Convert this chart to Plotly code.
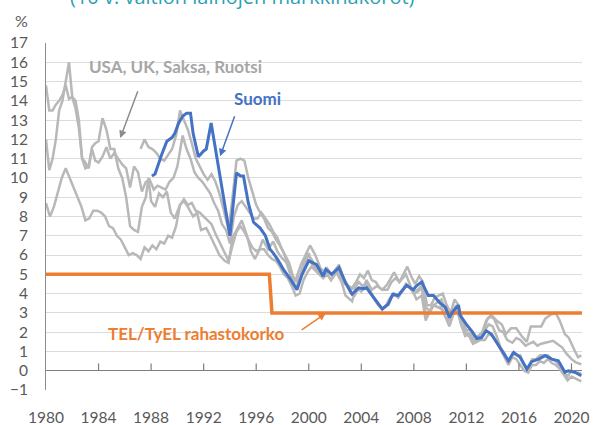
import plotly.graph_objects as go

# ---------------- data ----------------
tick_years = [1980, 1984, 1988, 1992, 1996, 2000, 2004, 2008, 2012, 2016, 2020]

usa_x = [1980.0, 1980.25, 1980.5, 1980.75, 1981.0, 1981.25, 1981.5, 1981.75, 1982.0, 1982.25, 1982.5, 1982.75,
         1983.0, 1983.25, 1983.5, 1983.75, 1984.0, 1984.3, 1984.6, 1984.9, 1985.2, 1985.5, 1985.8, 1986.1,
         1986.4, 1986.7, 1987.0, 1987.3, 1987.6, 1987.8, 1988.0, 1988.3, 1988.6, 1988.9, 1989.2, 1989.5,
         1989.8, 1990.2, 1990.5, 1990.8, 1991.2, 1991.5, 1991.8, 1992.2, 1992.5, 1992.8, 1993.2, 1993.6,
         1993.9, 1994.2, 1994.5, 1994.9, 1995.3, 1995.6, 1995.9, 1996.2, 1996.5, 1996.9, 1997.3, 1997.6,
         1997.9, 1998.3, 1998.7, 1999.0, 1999.4, 1999.8, 2000.1, 2000.5, 2000.9, 2001.3, 2001.7, 2002.1,
         2002.5, 2002.8, 2003.3, 2003.6, 2004.0, 2004.4, 2004.8, 2005.2, 2005.6, 2006.0, 2006.5, 2006.9,
         2007.4, 2007.8, 2008.2, 2008.6, 2008.9, 2009.3, 2009.7, 2010.1, 2010.5, 2010.9, 2011.2, 2011.6,
         2011.9, 2012.3, 2012.6, 2012.9, 2013.3, 2013.6, 2013.9, 2014.3, 2014.7, 2015.0, 2015.4, 2015.8,
         2016.2, 2016.6, 2016.9, 2017.3, 2017.7, 2018.0, 2018.4, 2018.8, 2019.1, 2019.5, 2019.8, 2020.2,
         2020.5, 2020.75]
usa_y = [12.0, 10.4, 11.0, 12.0, 13.5, 14.0, 15.0, 16.0, 14.2, 14.0, 13.0, 11.0,
         10.5, 10.6, 11.6, 11.8, 11.9, 13.1, 12.5, 11.5, 11.5, 10.5, 10.0, 9.0,
         7.5, 7.3, 7.2, 8.5, 9.0, 10.0, 8.8, 8.5, 9.2, 9.0, 9.3, 8.2,
         7.9, 8.6, 8.8, 8.5, 8.0, 8.2, 7.3, 7.4, 7.0, 6.6, 6.0, 5.7,
         5.6, 6.9, 7.3, 7.8, 7.0, 6.2, 5.8, 6.2, 6.8, 6.3, 6.7, 6.2,
         5.9, 5.6, 4.8, 4.7, 5.5, 6.1, 6.5, 6.0, 5.3, 5.1, 4.7, 5.1,
         4.6, 3.9, 3.6, 4.3, 4.1, 4.7, 4.2, 4.4, 4.2, 4.5, 5.1, 4.6,
         5.0, 4.3, 3.7, 3.9, 2.6, 3.2, 3.5, 3.7, 3.0, 2.8, 3.4, 2.4,
         2.0, 1.9, 1.6, 1.8, 2.0, 2.7, 2.9, 2.6, 2.4, 1.9, 2.2, 2.2,
         1.8, 1.5, 2.3, 2.3, 2.3, 2.7, 2.9, 3.0, 2.6, 1.9, 1.7, 1.1,
         0.7, 0.8]

uk_x = [1980.0, 1980.25, 1980.5, 1980.75, 1981.0, 1981.25, 1981.5, 1981.75, 1982.0, 1982.25, 1982.5, 1982.75,
        1983.0, 1983.25, 1983.5, 1983.75, 1984.0, 1984.3, 1984.6, 1984.9, 1985.2, 1985.5, 1985.8, 1986.1,
        1986.4, 1986.7, 1987.0, 1987.3, 1987.6, 1987.9, 1988.2, 1988.5, 1988.8, 1989.1, 1989.4, 1989.7,
        1990.0, 1990.4, 1990.7, 1991.0, 1991.3, 1991.6, 1991.9, 1992.2, 1992.5, 1992.8, 1993.1, 1993.4,
        1993.7, 1994.0, 1994.3, 1994.6, 1994.9, 1995.2, 1995.5, 1995.8, 1996.1, 1996.4, 1996.7, 1997.0,
        1997.3, 1997.6, 1997.9, 1998.2, 1998.5, 1998.8, 1999.1, 1999.4, 1999.7, 2000.0, 2000.3, 2000.6,
        2000.9, 2001.2, 2001.5, 2001.8, 2002.1, 2002.4, 2002.7, 2003.0, 2003.3, 2003.6, 2003.9, 2004.2,
        2004.5, 2004.8, 2005.1, 2005.4, 2005.7, 2006.0, 2006.3, 2006.6, 2006.9, 2007.2, 2007.5, 2007.8,
        2008.1, 2008.4, 2008.7, 2009.0, 2009.3, 2009.6, 2009.9, 2010.2, 2010.5, 2010.8, 2011.1, 2011.4,
        2011.7, 2012.0, 2012.3, 2012.6, 2012.9, 2013.2, 2013.5, 2013.8, 2014.1, 2014.5, 2014.8, 2015.1,
        2015.5, 2015.8, 2016.1, 2016.5, 2016.8, 2017.1, 2017.4, 2017.7, 2018.0, 2018.3, 2018.6, 2018.9,
        2019.3, 2019.6, 2020.0, 2020.3, 2020.75]
uk_y = [14.8, 13.5, 13.5, 13.8, 14.0, 14.3, 14.8, 14.1, 14.2, 13.6, 12.6, 11.0,
        10.8, 10.5, 11.5, 10.9, 10.8, 11.1, 11.6, 11.0, 11.3, 11.0, 10.7, 10.5,
        9.5, 10.6, 10.3, 9.3, 9.8, 9.9, 9.4, 9.6, 9.5, 9.4, 9.8, 10.0,
        10.6, 12.2, 11.5, 11.0, 10.3, 10.0, 9.8, 9.5, 9.2, 8.7, 8.3, 7.6,
        7.3, 6.6, 8.0, 8.6, 8.8, 8.5, 8.2, 7.9, 7.9, 8.2, 7.9, 7.6,
        7.2, 6.9, 6.4, 6.0, 5.6, 4.9, 4.6, 5.1, 5.5, 6.1, 5.4, 5.3,
        5.1, 4.9, 5.2, 4.9, 5.1, 5.3, 4.7, 4.4, 4.3, 4.6, 5.0, 4.8,
        5.2, 4.7, 4.6, 4.3, 4.2, 4.2, 4.6, 4.8, 4.6, 5.0, 5.4, 4.9,
        4.5, 4.9, 4.6, 3.4, 3.4, 3.8, 3.9, 4.0, 3.4, 3.0, 3.7, 3.4,
        2.6, 2.1, 2.1, 1.6, 1.8, 2.0, 2.6, 2.8, 2.7, 2.1, 2.0, 1.6,
        1.45, 1.7, 1.6, 1.3, 1.4, 1.5, 1.3, 1.4, 1.45, 1.5, 1.55, 1.4,
        1.2, 0.9, 0.6, 0.45, 0.33]

ger_x = [1980.0, 1980.3, 1980.6, 1980.9, 1981.2, 1981.5, 1981.8, 1982.1, 1982.4, 1982.7, 1983.0, 1983.3,
         1983.6, 1983.9, 1984.2, 1984.5, 1984.8, 1985.1, 1985.4, 1985.7, 1986.0, 1986.3, 1986.6, 1986.9,
         1987.2, 1987.5, 1987.8, 1988.1, 1988.4, 1988.7, 1989.0, 1989.3, 1989.6, 1989.9, 1990.2, 1990.5,
         1990.8, 1991.1, 1991.4, 1991.7, 1992.0, 1992.3, 1992.6, 1992.9, 1993.2, 1993.5, 1993.9, 1994.2,
         1994.5, 1994.8, 1995.1, 1995.4, 1995.7, 1996.0, 1996.3, 1996.6, 1996.9, 1997.2, 1997.5, 1997.8,
         1998.1, 1998.4, 1998.7, 1999.0, 1999.3, 1999.6, 1999.9, 2000.2, 2000.5, 2000.8, 2001.1, 2001.4,
         2001.7, 2002.0, 2002.3, 2002.6, 2002.9, 2003.2, 2003.5, 2003.8, 2004.1, 2004.4, 2004.7, 2005.0,
         2005.3, 2005.6, 2005.9, 2006.2, 2006.5, 2006.8, 2007.1, 2007.4, 2007.7, 2008.0, 2008.3, 2008.6,
         2008.9, 2009.2, 2009.5, 2009.8, 2010.1, 2010.4, 2010.7, 2011.0, 2011.3, 2011.6, 2011.9, 2012.2,
         2012.5, 2012.8, 2013.1, 2013.4, 2013.7, 2014.0, 2014.3, 2014.6, 2014.9, 2015.2, 2015.5, 2015.8,
         2016.1, 2016.4, 2016.7, 2017.0, 2017.3, 2017.6, 2017.9, 2018.2, 2018.5, 2018.8, 2019.1, 2019.4,
         2019.7, 2020.0, 2020.3, 2020.6, 2020.75]
ger_y = [8.7, 8.0, 8.5, 9.3, 10.0, 10.5, 10.0, 9.5, 9.0, 8.5, 7.8, 7.9,
         8.3, 8.3, 8.2, 8.0, 7.5, 7.4, 7.0, 6.8, 6.4, 6.0, 6.1, 6.0,
         5.8, 6.4, 6.2, 6.5, 6.3, 6.7, 6.6, 7.0, 6.9, 7.5, 8.6, 8.9,
         8.6, 8.7, 8.3, 8.2, 8.0, 7.8, 7.6, 7.1, 6.7, 6.3, 5.7, 6.5,
         7.2, 7.5, 7.2, 6.8, 6.4, 6.2, 6.3, 6.3, 6.0, 5.8, 5.7, 5.4,
         5.0, 4.8, 4.4, 3.9, 4.0, 4.7, 5.1, 5.4, 5.2, 5.0, 4.8, 5.0,
         4.7, 5.0, 5.1, 4.6, 4.4, 4.0, 3.9, 4.3, 4.2, 4.3, 4.0, 3.7,
         3.4, 3.2, 3.4, 3.7, 4.0, 3.8, 4.1, 4.5, 4.3, 4.0, 4.1, 4.3,
         3.3, 3.1, 3.4, 3.3, 3.2, 2.8, 2.3, 2.9, 3.2, 2.5, 1.9, 1.8,
         1.4, 1.5, 1.6, 1.6, 1.9, 1.8, 1.5, 1.1, 0.7, 0.3, 0.7, 0.6,
         0.3, 0.0, -0.1, 0.3, 0.3, 0.5, 0.4, 0.6, 0.4, 0.3, 0.1, -0.2,
         -0.5, -0.3, -0.4, -0.5, -0.55]

swe_x = [1987.2, 1987.5, 1987.8, 1988.1, 1988.4, 1988.7, 1989.0, 1989.3, 1989.6, 1989.9, 1990.2, 1990.5,
         1990.8, 1991.1, 1991.4, 1991.7, 1992.0, 1992.3, 1992.6, 1992.9, 1993.2, 1993.5, 1993.9, 1994.2,
         1994.5, 1994.8, 1995.1, 1995.4, 1995.7, 1996.0, 1996.3, 1996.6, 1996.9, 1997.2, 1997.5, 1997.8,
         1998.1, 1998.4, 1998.7, 1999.0, 1999.3, 1999.6, 1999.9, 2000.2, 2000.5, 2000.8, 2001.1, 2001.4,
         2001.7, 2002.0, 2002.3, 2002.6, 2002.9, 2003.2, 2003.5, 2003.8, 2004.1, 2004.4, 2004.7, 2005.0,
         2005.3, 2005.6, 2005.9, 2006.2, 2006.5, 2006.8, 2007.1, 2007.4, 2007.7, 2008.0, 2008.3, 2008.6,
         2008.9, 2009.2, 2009.5, 2009.8, 2010.1, 2010.4, 2010.7, 2011.0, 2011.3, 2011.6, 2011.9, 2012.2,
         2012.5, 2012.8, 2013.1, 2013.4, 2013.7, 2014.0, 2014.3, 2014.6, 2014.9, 2015.2, 2015.5, 2015.8,
         2016.1, 2016.4, 2016.7, 2017.0, 2017.3, 2017.6, 2017.9, 2018.2, 2018.5, 2018.8, 2019.1, 2019.4,
         2019.7, 2020.0, 2020.3, 2020.6, 2020.75]
swe_y = [11.5, 12.0, 11.6, 11.5, 11.3, 11.0, 10.9, 11.2, 11.5, 12.2, 13.5, 13.0,
         12.5, 11.8, 11.0, 10.6, 10.2, 9.9, 10.2, 9.8, 9.2, 8.4, 7.3, 9.0,
         10.9, 11.0, 10.9, 10.0, 9.3, 8.6, 8.2, 7.9, 7.4, 7.2, 6.8, 6.5,
         6.1, 5.6, 5.0, 4.3, 4.7, 5.6, 6.0, 5.8, 5.4, 5.3, 4.9, 5.3,
         5.0, 5.2, 5.5, 4.8, 4.5, 4.2, 4.3, 4.6, 4.4, 4.5, 4.1, 3.7,
         3.4, 3.2, 3.4, 3.8, 4.0, 3.8, 4.1, 4.5, 4.3, 4.1, 4.2, 4.4,
         2.9, 3.0, 3.4, 3.3, 3.3, 2.8, 2.6, 3.1, 3.2, 2.4, 1.8, 1.9,
         1.5, 1.6, 1.9, 2.1, 2.4, 2.3, 1.8, 1.2, 0.9, 0.4, 0.9, 0.8,
         0.8, 0.3, 0.1, 0.6, 0.6, 0.8, 0.8, 0.8, 0.6, 0.5, 0.2, -0.1,
         -0.3, 0.0, -0.1, -0.1, -0.2]

fin_x = [1988.06, 1988.3, 1988.8, 1989.2, 1989.6, 1989.8, 1990.1, 1990.4, 1990.7, 1991.0, 1991.2, 1991.6,
         1992.0, 1992.2, 1992.57, 1992.9, 1993.25, 1993.6, 1994.0, 1994.5, 1994.8, 1995.03, 1995.4, 1995.8,
         1996.3, 1996.7, 1997.05, 1997.3, 1997.6, 1998.07, 1998.6, 1999.1, 1999.5, 2000.0, 2000.6, 2001.1,
         2001.3, 2001.75, 2002.3, 2002.8, 2003.3, 2003.8, 2004.15, 2004.4, 2005.05, 2005.6, 2006.05, 2006.4,
         2006.8, 2007.45, 2007.95, 2008.2, 2008.6, 2009.1, 2009.5, 2010.0, 2010.4, 2010.7, 2011.0, 2011.4,
         2011.5, 2012.0, 2012.4, 2012.8, 2013.15, 2013.5, 2013.9, 2014.3, 2014.8, 2015.2, 2015.6, 2016.1,
         2016.6, 2016.96, 2017.5, 2018.0, 2018.5, 2019.0, 2019.5, 2019.75, 2020.25, 2020.75]
fin_y = [10.1, 10.2, 11.2, 11.9, 12.1, 12.3, 12.85, 13.2, 13.36, 13.36, 12.3, 11.1,
         11.4, 11.5, 12.85, 11.5, 10.26, 8.7, 7.0, 10.26, 10.1, 10.1, 8.7, 7.7,
         7.4, 7.0, 6.3, 6.1, 5.8, 5.26, 4.75, 4.2, 5.0, 5.7, 5.5, 4.9,
         5.26, 5.0, 5.35, 4.57, 3.97, 4.3, 4.25, 4.3, 3.7, 3.2, 3.45, 3.97,
         3.9, 4.43, 4.2, 4.4, 4.6, 3.9, 3.9, 3.5, 3.3, 2.76, 3.1, 3.4,
         2.9, 2.4, 2.07, 1.67, 1.72, 2.07, 1.9, 1.47, 0.95, 0.52, 0.95, 0.69,
         0.09, 0.47, 0.6, 0.78, 0.6, 0.52, -0.08, 0.0, -0.08, -0.26]

tel_x = [1980.0, 1997.0, 1997.2, 2020.8]
tel_y = [5, 5, 3, 3]

# ---------------- styles ----------------
GREY = "#b8b8b8"
BLUE = "#4472c4"
ORANGE = "#ed7d31"
TXT = "#595959"
FONT = "Lato"

fig = go.Figure()
for xs, ys in [(usa_x, usa_y), (uk_x, uk_y), (ger_x, ger_y), (swe_x, swe_y)]:
    fig.add_trace(go.Scatter(x=xs, y=ys, mode="lines", line=dict(color=GREY, width=2.5),
                             hoverinfo="skip", showlegend=False))
fig.add_trace(go.Scatter(x=tel_x, y=tel_y, mode="lines", line=dict(color=ORANGE, width=3.5),
                         showlegend=False))
fig.add_trace(go.Scatter(x=fin_x, y=fin_y, mode="lines", line=dict(color=BLUE, width=3),
                         showlegend=False))

# tick marks on the zero line (pointing up)
for t in tick_years[1:]:
    fig.add_shape(type="line", x0=t, x1=t, y0=0, y1=0.38, xref="x", yref="y",
                  line=dict(color="#7f7f7f", width=1.2))

annots = [
    dict(x=1989.83, y=15.8, text="<b>USA, UK, Saksa, Ruotsi</b>", font=dict(color="#a6a6a6", size=17),
         showarrow=False),
    dict(x=1996.1, y=14.1, text="<b>Suomi</b>", font=dict(color=BLUE, size=17), showarrow=False),
    dict(x=1991.43, y=1.92, text="<b>TEL/TyEL rahastokorko</b>", font=dict(color=ORANGE, size=17),
         showarrow=False),
    dict(x=1985.65, y=12.07, ax=1987.03, ay=14.57, axref="x", ayref="y", text="", showarrow=True,
         arrowhead=2, arrowsize=1, arrowwidth=1.5, arrowcolor="#8c8c8c"),
    dict(x=1993.25, y=11.12, ax=1994.4, ay=13.28, axref="x", ayref="y", text="", showarrow=True,
         arrowhead=2, arrowsize=1, arrowwidth=1.5, arrowcolor=BLUE),
    dict(x=2001.3, y=2.98, ax=1999.35, ay=2.07, axref="x", ayref="y", text="", showarrow=True,
         arrowhead=2, arrowsize=1, arrowwidth=1.5, arrowcolor=ORANGE),
    dict(x=-0.0466, y=1.066, xref="paper", yref="paper", xanchor="center", yanchor="middle",
         text="%", showarrow=False, font=dict(color=TXT, size=16)),
    dict(x=0.367, y=1.133, xref="paper", yref="paper", xanchor="center", yanchor="middle",
         text="(10 v. valtion lainojen markkinakorot)",
         showarrow=False, font=dict(color="#2b9fb3", size=20, family="Open Sans")),
]

fig.update_layout(
    width=596, height=425,
    margin=dict(l=46, r=14, t=43, b=35, autoexpand=False),
    paper_bgcolor="white", plot_bgcolor="white",
    font=dict(family=FONT, color=TXT, size=15.5),
    annotations=annots,
    showlegend=False,
)
fig.update_xaxes(range=[1980, 2020.8], tickvals=tick_years, showgrid=False, zeroline=False,
                 showline=False, ticks="", ticklabelstandoff=16, tickfont=dict(size=15.5, color=TXT))
fig.update_yaxes(range=[-1, 17], dtick=1, tick0=-1, showgrid=True, gridcolor="#dcdcdc", gridwidth=1,
                 zeroline=True, zerolinecolor="#7f7f7f", zerolinewidth=1.2,
                 showline=True, linecolor="#8c8c8c", linewidth=1, ticks="",
                 ticklabelstandoff=14, tickfont=dict(size=15.5, color=TXT))

fig.write_html("out.html", config={"displayModeBar": False},
               post_script="document.body.style.margin='0';")
